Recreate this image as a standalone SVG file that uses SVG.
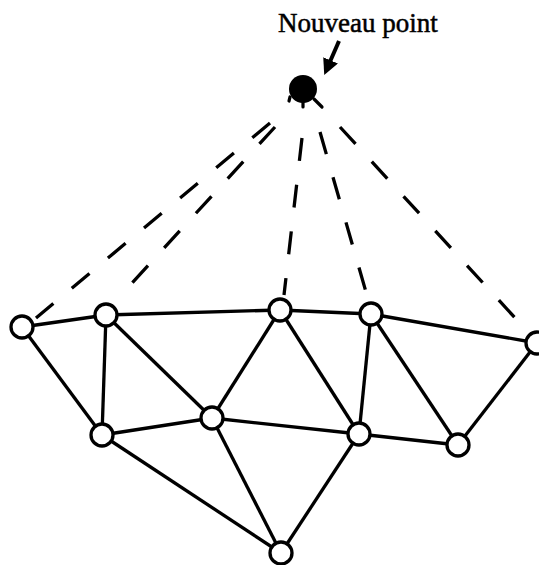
<svg xmlns="http://www.w3.org/2000/svg" width="539" height="565" viewBox="0 0 539 565">
<style>
.e{stroke:#000;stroke-width:3.3;fill:none}
.d{stroke:#000;stroke-width:3.3;fill:none;stroke-dasharray:23 24}
.n{fill:#fff;stroke:#000;stroke-width:3.3}
.t{font-family:"Liberation Serif","Times New Roman",serif;font-size:27px;fill:#000;stroke:#000;stroke-width:0.5}
</style>
<defs>
<marker id="ah" markerWidth="4" markerHeight="4" refX="1" refY="2" orient="auto" markerUnits="strokeWidth">
<path d="M0,0 L4,2 L0,4 z" fill="#000"/>
</marker>
</defs>
<rect width="539" height="565" fill="#fff"/>
<g id="connectors">
<path class="d" d="M270,123 L36,318"/>
<path class="d" d="M275,127 L132,283"/>
<path class="d" d="M302,138 L284,295"/>
<path class="d" d="M320,132 L366,292"/>
<path class="d" d="M340,127 L517,320"/>
<line class="e" x1="22" y1="327" x2="106" y2="315"/>
<line class="e" x1="22" y1="327" x2="102" y2="435"/>
<line class="e" x1="106" y1="315" x2="280" y2="310"/>
<line class="e" x1="106" y1="315" x2="102" y2="435"/>
<line class="e" x1="106" y1="315" x2="212" y2="418"/>
<line class="e" x1="280" y1="310" x2="212" y2="418"/>
<line class="e" x1="280" y1="310" x2="359" y2="434"/>
<line class="e" x1="280" y1="310" x2="371" y2="314"/>
<line class="e" x1="371" y1="314" x2="359" y2="434"/>
<line class="e" x1="371" y1="314" x2="458" y2="445"/>
<line class="e" x1="371" y1="314" x2="537" y2="343"/>
<line class="e" x1="537" y1="343" x2="458" y2="445"/>
<line class="e" x1="102" y1="435" x2="212" y2="418"/>
<line class="e" x1="102" y1="435" x2="281" y2="553"/>
<line class="e" x1="212" y1="418" x2="359" y2="434"/>
<line class="e" x1="212" y1="418" x2="281" y2="553"/>
<line class="e" x1="359" y1="434" x2="281" y2="553"/>
<line class="e" x1="359" y1="434" x2="458" y2="445"/>
<line x1="339" y1="41" x2="329" y2="64" stroke="#000" stroke-width="4" marker-end="url(#ah)"/>
</g>
<g id="label"><text class="t" x="278" y="32">Nouveau point</text></g>
<g id="new"><circle cx="303" cy="89" r="14" fill="#000"/><path d="M290,97 L289,101 M303,100 L303,107 M314,99 L322,107" stroke="#000" stroke-width="3.2" stroke-linecap="round"/></g>
<g id="nA"><circle class="n" cx="22" cy="327" r="11"/></g>
<g id="nB"><circle class="n" cx="106" cy="315" r="11"/></g>
<g id="nC"><circle class="n" cx="280" cy="310" r="11"/></g>
<g id="nD"><circle class="n" cx="371" cy="314" r="11"/></g>
<g id="nE"><circle class="n" cx="537" cy="343" r="11"/></g>
<g id="nF"><circle class="n" cx="102" cy="435" r="11"/></g>
<g id="nG"><circle class="n" cx="212" cy="418" r="11"/></g>
<g id="nH"><circle class="n" cx="359" cy="434" r="11"/></g>
<g id="nI"><circle class="n" cx="458" cy="445" r="11"/></g>
<g id="nJ"><circle class="n" cx="281" cy="553" r="11"/></g>
</svg>
